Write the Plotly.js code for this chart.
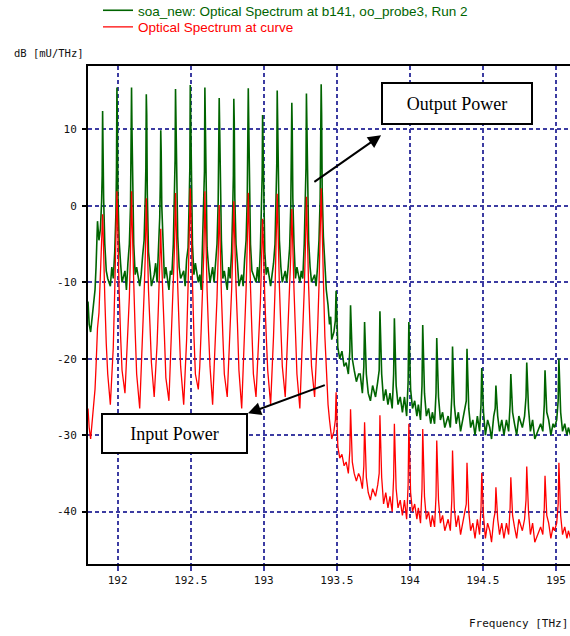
<!DOCTYPE html>
<html><head><meta charset="utf-8">
<script src="https://cdn.plot.ly/plotly-3.0.1.min.js"></script>
<style>html,body{margin:0;padding:0;background:#fff;}#chart{width:570px;height:636px;}</style>
</head><body><div id="chart"></div>
<script>
// ---- data ----
// left edge of the spectrum (THz) and levels (dB)
const startFreq = [191.797, 191.805, 191.815, 191.825, 191.835, 191.845];
const outputStart = [-12.5, -15.5, -16.5, -14.5, -13, -11];
const inputStart = [-26.5, -29, -30.5, -28.5, -26.5, -24];

// the 16 amplified WDM channels (THz)
const channelFreq = [191.897, 191.995, 192.095, 192.196, 192.295, 192.396, 192.497, 192.597, 192.695, 192.795, 192.894, 192.992, 193.092, 193.192, 193.292, 193.393];
// frequency offsets (THz) around each channel at which the levels were read
const channelOffsets = [-0.045, -0.035, -0.025, -0.015, -0.007, -0.003, 0, 0.003, 0.007, 0.015, 0.025, 0.035];
const outputChannels = [
  [-8, -2, -4.5, -3, 0.5, 4, 12.4, 7, 1, -5, -8.5, -9.5],
  [-10.5, -8, -9.5, -6, -1, 5, 15.5, 11, 1.5, -4.5, -7.5, -10],
  [-8.5, -11, -7.5, -5, 0, 6, 15.5, 10, 2, -5, -9, -8],
  [-10.5, -9, -6.5, -4.5, 1, 5, 14.6, 12, 1.5, -6, -8, -10.5],
  [-9, -7.5, -10, -6, -1.5, 3, 9.9, 7, 0, -5.5, -9.5, -8],
  [-11, -8.5, -9, -5, 0.5, 6, 15.3, 11.5, 2, -4, -8, -9.5],
  [-8.5, -10.5, -7, -5.5, 1, 5, 15.8, 10, 1.5, -5, -9, -7.5],
  [-10, -9, -11, -4.5, 0, 4.5, 15.5, 11, 1, -5.5, -8, -10],
  [-8, -10, -7.5, -5, 0.5, 5, 14.1, 10.5, 2, -4.5, -9.5, -8.5],
  [-11, -8, -9.5, -6, 0, 4, 14.0, 11, 1, -5, -7.5, -10.5],
  [-9, -10.5, -7, -4.5, 1, 6, 15.4, 11, 2, -5, -8.5, -9],
  [-10, -8, -10, -5.5, -0.5, 4, 11.9, 8.5, 0.5, -6, -9, -8],
  [-10.5, -9, -7.5, -5, 0.5, 5.5, 15.1, 11, 1.5, -4.5, -8, -10],
  [-8.5, -10, -8, -5.5, 0, 4.5, 13.5, 10, 1, -5, -9.5, -8],
  [-10, -8.5, -9.5, -5, 0.5, 5, 14.7, 11.5, 2, -4.5, -8, -10],
  [-9, -10.5, -8, -4.5, 1, 6, 15.9, 12, 2, -4, -7.5, -11]
];
const inputChannels = [
  [-21, -16, -14, -9, -5, -2.5, -1.1, -3, -7, -12, -18, -22],
  [-26, -22, -18.5, -11, -5.5, -1, 1.9, -0.5, -5, -11, -17, -21.5],
  [-24.5, -20, -17, -12, -6, -1.5, 1.9, -1, -5.5, -10, -16.5, -22],
  [-26.5, -22, -16, -11.5, -6.5, -2, 1.0, -1.5, -6, -11, -15.5, -20.5],
  [-25, -21.5, -18, -12.5, -8, -5, -3.0, -5.5, -8.5, -12, -17, -22.5],
  [-25.5, -20.5, -16.5, -11, -5.5, -1.5, 1.7, -1, -5, -10.5, -16, -21],
  [-26, -22.5, -17.5, -10.5, -5, -1, 2.3, 0, -4.5, -10, -17, -22],
  [-24, -21, -16, -11.5, -6, -2, 1.9, -1, -5.5, -11, -16.5, -21],
  [-26, -22, -17.5, -12, -6.5, -2.5, 0.1, -2, -6, -11.5, -17, -22],
  [-25, -20.5, -16.5, -11, -6, -2, 0.6, -2, -5.5, -10.5, -15.5, -21.5],
  [-26.5, -21.5, -17, -11, -5, -1.5, 1.7, -0.5, -5, -10.5, -16.5, -22],
  [-25, -21, -18, -12.5, -7, -3.5, -1.7, -3.5, -7, -12, -17, -21.5],
  [-26, -22, -17, -11, -5.5, -1.5, 1.6, -1, -5, -10.5, -16, -21],
  [-25, -20.5, -16.5, -11.5, -6.5, -2.5, -0.4, -2.5, -6, -11, -16.5, -22],
  [-26.5, -22, -17.5, -11, -5.5, -1.5, 1.2, -1, -5.5, -10.5, -16, -21],
  [-25, -21, -16.5, -10.5, -5, -1, 2.3, 0, -4.5, -9.5, -17, -22]
];

// roll-off after the last channel
const dropFreq = [193.44, 193.45, 193.458];
const outputDrop = [-13, -15.5, -14.5];
const inputDrop = [-26, -28, -29];

// weak residual peaks in the upper band (THz)
const tailFreq = [193.495, 193.594, 193.690, 193.795, 193.894, 193.993, 194.088, 194.184, 194.292, 194.391, 194.492, 194.589, 194.691, 194.800, 194.925, 195.020];
const tailOffsets = [-0.03, -0.015, -0.005, 0, 0.004, 0.012, 0.025, 0.04, 0.055];
const outputTail = [
  [-17.5, -16.5, -15, -11.1, -14, -18.5, -20, -19, -21],
  [-20.5, -22, -19, -13.0, -16.5, -20, -21.5, -23, -22],
  [-22, -24.5, -21, -15.2, -19, -22, -24.5, -25.5, -23.5],
  [-25, -23, -21.5, -13.8, -18, -22, -25.5, -24, -26],
  [-24.5, -26.5, -22, -14.7, -19.5, -23.5, -26, -25, -27],
  [-25, -27.5, -23, -15.2, -19, -24, -26.5, -25.5, -27.5],
  [-26, -28, -23.5, -15.6, -20, -24.5, -27.5, -26.5, -28.5],
  [-27, -28.5, -24.5, -17.3, -21, -25, -28, -27, -29],
  [-27.5, -29, -25, -18.4, -22.5, -26, -28.5, -27, -29.5],
  [-28, -26.5, -25.5, -18.7, -23, -26.5, -29, -28, -30],
  [-27.5, -29.5, -26, -21.2, -24, -27, -30, -28, -29],
  [-30.5, -27.5, -26.5, -23.5, -25.5, -27.5, -29.5, -28, -30],
  [-28, -29.5, -26, -22.0, -24.5, -27, -28.5, -30, -27.5],
  [-29, -27.5, -25, -20.5, -23.5, -26.5, -29.5, -28, -30.5],
  [-28.5, -29.5, -26, -21.5, -24, -27, -28, -30, -28.5],
  [-29, -28, -25.5, -20.0, -23, -27, -29.5, -28.5, -30]
];
const inputTail = [
  [-30.5, -29.5, -28, -24.4, -27.5, -31.5, -33, -32.5, -34],
  [-33.5, -35, -32, -26.6, -30, -33.5, -35, -36, -35],
  [-35.5, -37, -34, -28.3, -32, -35.5, -37.5, -38.5, -37],
  [-38, -36.5, -35, -27.4, -31.5, -35.5, -39, -37.5, -39.5],
  [-38, -40, -35.5, -28.5, -33, -37, -39.5, -38.5, -40.5],
  [-38.5, -41, -36.5, -28.5, -32.5, -37.5, -40, -39, -41],
  [-39.5, -41.5, -37, -29.2, -33.5, -38, -41, -40, -42],
  [-40.5, -42, -38, -30.7, -34.5, -38.5, -41.5, -40.5, -42.5],
  [-41, -42.5, -38.5, -32.0, -36, -39.5, -42, -40.5, -43],
  [-41.5, -40, -39, -33.6, -36.5, -40, -42.5, -41.5, -43.5],
  [-41, -43, -39.5, -34.9, -37.5, -40.5, -43.5, -41.5, -42.5],
  [-44, -41, -40, -36.8, -39, -41, -43, -41.5, -43.5],
  [-41.5, -43, -39.5, -35.5, -38, -40.5, -42, -43.5, -41],
  [-42.5, -41, -38.5, -34.1, -37, -40, -43, -41.5, -44],
  [-42, -43, -39.5, -35.3, -37.5, -40.5, -41.5, -43.5, -42],
  [-42.5, -41.5, -39, -33.6, -36.5, -40.5, -43, -42, -43.5]
];
const endFreq = [195.085, 195.1];
const outputEnd = [-29, -30];
const inputEnd = [-42.5, -43.5];

const xTickVals = [192, 192.5, 193, 193.5, 194, 194.5, 195];
const xTickText = ['192', '192.5', '193', '193.5', '194', '194.5', '195'];
const yTickVals = [10, 0, -10, -20, -30, -40];
const yTickText = ['10', '0', '-10', '-20', '-30', '-40'];

// ---- assemble the sampled spectra ----
const freq = [], output = [], input = [];
function addPoints(fs, o, i) { for (let k = 0; k < fs.length; k++) { freq.push(fs[k]); output.push(o[k]); input.push(i[k]); } }
addPoints(startFreq, outputStart, inputStart);
channelFreq.forEach((c, n) => addPoints(channelOffsets.map(d => +(c + d).toFixed(4)), outputChannels[n], inputChannels[n]));
addPoints(dropFreq, outputDrop, inputDrop);
tailFreq.forEach((c, n) => addPoints(tailOffsets.map(d => +(c + d).toFixed(4)), outputTail[n], inputTail[n]));
addPoints(endFreq, outputEnd, inputEnd);

const GREEN = '#006400', RED = '#ff0000', GRID = '#3c3ca2';
const data = [
  {x: freq, y: output, type: 'scatter', mode: 'lines', line: {color: GREEN, width: 1.6}, legend: 'legend',
   name: '<span style="color:' + GREEN + '">soa_new: Optical Spectrum at b141, oo_probe3, Run 2</span>'},
  {x: freq, y: input, type: 'scatter', mode: 'lines', line: {color: RED, width: 1.3}, legend: 'legend2',
   name: '<span style="color:' + RED + '">Optical Spectrum at curve</span>'}
];

const legendFont = {family: 'Liberation Sans, Arial, sans-serif', size: 13.5, color: '#000'};
const tickFont = {family: 'DejaVu Sans Mono, monospace', size: 11, color: '#111'};
const layout = {
  width: 570, height: 636,
  margin: {l: 88, r: 0, t: 66, b: 72, pad: 0, autoexpand: false},
  paper_bgcolor: '#ffffff', plot_bgcolor: '#ffffff',
  hovermode: false,
  showlegend: true,
  legend: {x: 98 / 570, y: 1 - 10.5 / 636, xref: 'container', yref: 'container', xanchor: 'left', yanchor: 'middle',
           font: legendFont, bgcolor: 'rgba(255,255,255,0)', borderwidth: 0, tracegroupgap: 0, itemwidth: 30},
  legend2: {x: 98 / 570, y: 1 - 27 / 636, xref: 'container', yref: 'container', xanchor: 'left', yanchor: 'middle',
           font: legendFont, bgcolor: 'rgba(255,255,255,0)', borderwidth: 0, tracegroupgap: 0, itemwidth: 30},
  xaxis: {range: [191.797, 195.096], tickmode: 'array', tickvals: xTickVals, ticktext: xTickText, tickangle: 0,
          showgrid: true, gridcolor: GRID, gridwidth: 2, griddash: '4px,3px', zeroline: false,
          showline: true, linecolor: '#000', linewidth: 2, mirror: true, automargin: false,
          ticks: 'outside', ticklen: 5, tickwidth: 2, tickcolor: GRID, tickfont: tickFont, fixedrange: true},
  yaxis: {range: [-46.85, 18.3], tickmode: 'array', tickvals: yTickVals, ticktext: yTickText,
          showgrid: true, gridcolor: GRID, gridwidth: 2, griddash: '4px,3px', zeroline: false,
          showline: true, linecolor: '#000', linewidth: 2, mirror: false, automargin: false,
          ticks: 'outside', ticklen: 4, tickwidth: 2, tickcolor: '#000', tickfont: tickFont, ticklabelstandoff: 3, fixedrange: true},
  annotations: [
    {xref: 'paper', yref: 'paper', x: (11.7 - 88) / 482, y: (564 - 52.5) / 498, xanchor: 'left', yanchor: 'middle',
     text: 'dB [mU/THz]', showarrow: false, font: {family: 'DejaVu Sans Mono, monospace', size: 10.5, color: '#111'}},
    {xref: 'paper', yref: 'paper', x: 1, y: (564 - 623) / 498, xanchor: 'right', yanchor: 'middle',
     text: 'Frequency [THz]', showarrow: false, font: {family: 'DejaVu Sans Mono, monospace', size: 11, color: '#111'}},
    {xref: 'x', yref: 'y', x: 194.321, y: 13.41, text: 'Output Power', showarrow: false,
     font: {family: 'Liberation Serif, Times New Roman, serif', size: 18, color: '#000'},
     bgcolor: '#ffffff', bordercolor: '#000', borderwidth: 2, borderpad: 0, width: 148, height: 39},
    {xref: 'x', yref: 'y', x: 192.389, y: -29.78, text: 'Input Power', showarrow: false,
     font: {family: 'Liberation Serif, Times New Roman, serif', size: 18, color: '#000'},
     bgcolor: '#ffffff', bordercolor: '#000', borderwidth: 2, borderpad: 0, width: 143, height: 37},
    {xref: 'x', yref: 'y', x: 193.803, y: 9.25, axref: 'x', ayref: 'y', ax: 193.336, ay: 3.0,
     text: '', showarrow: true, arrowhead: 2, arrowsize: 1.3, arrowwidth: 2, arrowcolor: '#000', standoff: 0},
    {xref: 'x', yref: 'y', x: 192.892, y: -27.14, axref: 'x', ayref: 'y', ax: 193.428, ay: -23.38,
     text: '', showarrow: true, arrowhead: 2, arrowsize: 1.3, arrowwidth: 2, arrowcolor: '#000', standoff: 0}
  ]
};

Plotly.newPlot('chart', data, layout, {displayModeBar: false, staticPlot: true});
</script>
</body></html>
